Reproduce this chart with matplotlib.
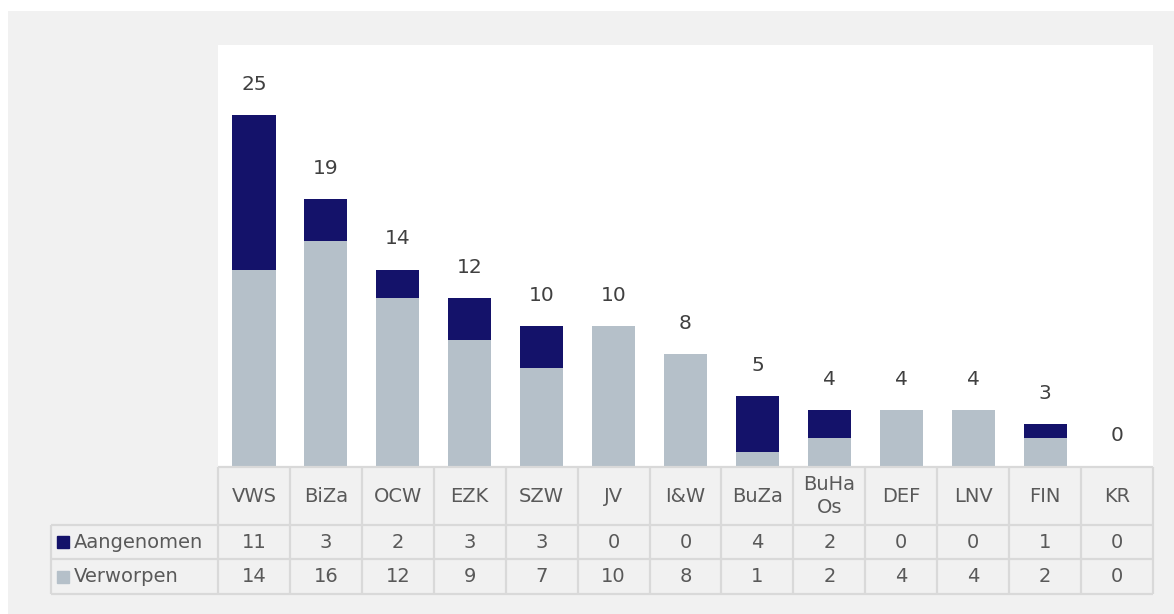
import numpy as np
import matplotlib.pyplot as plt
from matplotlib.patches import Rectangle
from matplotlib.transforms import blended_transform_factory

categories = ["VWS", "BiZa", "OCW", "EZK", "SZW", "JV", "I&W", "BuZa", "BuHa\nOs", "DEF", "LNV", "FIN", "KR"]
aangenomen = [11, 3, 2, 3, 3, 0, 0, 4, 2, 0, 0, 1, 0]
verworpen = [14, 16, 12, 9, 7, 10, 8, 1, 2, 4, 4, 2, 0]
series_names = ["Aangenomen", "Verworpen"]

navy = "#14126a"
grey = "#b5c0c9"
bg = "#f1f1f1"
line = "#d9d9d9"
txt = "#595959"
lab_txt = "#404040"

W, H = 1174, 614
fig = plt.figure(figsize=(W / 100, H / 100), dpi=100)
fig.patch.set_facecolor("white")

# grey frame around everything
fig.patches.append(Rectangle((8 / W, 0), 1 - 8 / W, 1 - 11 / H, transform=fig.transFigure,
                             facecolor=bg, edgecolor="none", zorder=-10))

ax_l, ax_r, ax_t, ax_b = 218, 1153, 45, 466
ax = fig.add_axes([ax_l / W, 1 - ax_b / H, (ax_r - ax_l) / W, (ax_b - ax_t) / H])
ax.set_facecolor("white")

x = np.arange(len(categories))
totals = np.array(aangenomen) + np.array(verworpen)
ax.bar(x, verworpen, width=0.6, color=grey, zorder=2)
ax.bar(x, aangenomen, width=0.6, bottom=verworpen, color=navy, zorder=2)

for xi, t in zip(x, totals):
    ax.annotate(str(t), (xi, t), xytext=(0, 22), textcoords="offset points",
                ha="center", va="center", fontsize=14.5, color=lab_txt)

ax.set_xlim(-0.5, len(categories) - 0.5)
ax.set_ylim(0, 30)
ax.set_xticks([])
ax.set_yticks([])
for s in ax.spines.values():
    s.set_visible(False)

# data table under the chart
tr = blended_transform_factory(ax.transData, ax.transAxes)
h_px = ax_b - ax_t
y_head = (ax_b - 467) / h_px
y_r1 = (ax_b - 525) / h_px
y_r2 = (ax_b - 559) / h_px
y_r3 = (ax_b - 594) / h_px
lab_left = (51 - ax_l) / (ax_r - ax_l)

lw = 1.6
kw = dict(color=line, lw=lw, clip_on=False, solid_capstyle="butt")
# horizontal lines
ax.plot([-0.5, len(categories) - 0.5], [y_head, y_head], transform=tr, **kw)
for yy in [y_r1, y_r2, y_r3]:
    ax.plot([0, 1], [yy, yy], transform=ax.transAxes, **kw)
    ax.plot([lab_left, 0], [yy, yy], transform=ax.transAxes, **kw)
# vertical lines
for xb in np.arange(len(categories) + 1) - 0.5:
    ax.plot([xb, xb], [y_head, y_r3], transform=tr, **kw)
ax.plot([lab_left, lab_left], [y_r1, y_r3], transform=ax.transAxes, **kw)

fs = 14
for xi, c in zip(x, categories):
    ax.text(xi, (y_head + y_r1) / 2, c, transform=tr, ha="center", va="center",
            fontsize=fs, color=txt, linespacing=1.3)

rows = [aangenomen, verworpen]
colors = [navy, grey]
row_mid = [(y_r1 + y_r2) / 2, (y_r2 + y_r3) / 2]
for name, vals, col, ym in zip(series_names, rows, colors, row_mid):
    for xi, v in zip(x, vals):
        ax.text(xi, ym, str(v), transform=tr, ha="center", va="center",
                fontsize=fs, color=txt)
    ax.plot([(63 - ax_l) / (ax_r - ax_l)], [ym], marker="s", markersize=8.5,
            color=col, transform=ax.transAxes, clip_on=False)
    ax.text((74 - ax_l) / (ax_r - ax_l), ym, name, transform=ax.transAxes,
            ha="left", va="center", fontsize=fs, color=txt)

fig.savefig("out.png", dpi=100, facecolor=fig.get_facecolor())
